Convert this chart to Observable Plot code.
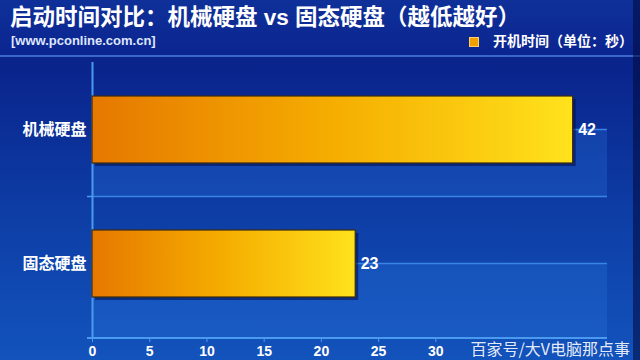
<!DOCTYPE html>
<html><head><meta charset="utf-8">
<script src="https://cdn.jsdelivr.net/npm/d3@7"></script>
<script src="https://cdn.jsdelivr.net/npm/@observablehq/plot@0.6"></script>
<style>
body{margin:0;background:#0a2088;}
#wrap{position:relative;width:640px;height:360px;overflow:hidden;background:linear-gradient(180deg,#081c82 0%,#0a2890 25%,#0d3ea6 60%,#1353bc 100%);font-family:"Liberation Sans","Noto Sans CJK SC",sans-serif;color:#fff;}
#wrap::after{content:"";position:absolute;right:0;top:0;width:7px;height:100%;background:rgba(2,10,60,0.55);}
#head{position:absolute;left:0;top:0;width:640px;height:55px;background:linear-gradient(180deg,#0f3099,#0b2590);border-bottom:2px solid #3b66cc;}
#title{position:absolute;left:10px;top:5px;font-size:22.5px;line-height:26px;font-weight:bold;white-space:nowrap;}
#sub{position:absolute;left:11px;top:33px;font-size:13px;line-height:16px;font-weight:bold;color:#dfe6ff;}
#legend{position:absolute;right:7px;top:33px;font-size:14px;line-height:17px;font-weight:bold;display:flex;align-items:center;white-space:nowrap;}
#legend .sw{width:8px;height:8px;background:#f2a000;border:1px solid #ffd070;margin-right:14px;}
#chart{position:absolute;left:0;top:58px;}
#wm{position:absolute;right:10px;top:339px;font-size:16px;line-height:18px;color:rgba(255,255,255,0.9);font-family:"Noto Sans CJK SC",sans-serif;white-space:nowrap;}
</style></head>
<body>
<div id="wrap">
  <div id="head">
    <div id="title"></div>
    <div id="sub"></div>
    <div id="legend"><span class="sw"></span><span id="legtext"></span></div>
  </div>
  <div id="chart"></div>
  <div id="wm"></div>
</div>
<script>
const titleText = "启动时间对比：机械硬盘 vs 固态硬盘（越低越好）";
const subtitleText = "[www.pconline.com.cn]";
const legendText = "开机时间（单位：秒）";
const watermarkText = "百家号/大V电脑那点事";
const categories = ["机械硬盘", "固态硬盘"];
const values = [42, 23];
const xTicks = [0, 5, 10, 15, 20, 25, 30];
const xDomain = [0, 45];

document.getElementById("title").textContent = titleText;
document.getElementById("sub").textContent = subtitleText;
document.getElementById("legtext").textContent = legendText;
document.getElementById("wm").textContent = watermarkText;

const data = categories.map((name, i) => ({name, value: values[i]}));

function backdrop(index, scales, vals, dims) {
  const x = scales.x, y = scales.y;
  const g = d3.create("svg:g");
  const defs = g.append("defs");
  const grad = defs.append("linearGradient").attr("id", "barGrad")
    .attr("x1", "0").attr("x2", "1").attr("y1", "0").attr("y2", "0");
  grad.append("stop").attr("offset", "0%").attr("stop-color", "#e67800");
  grad.append("stop").attr("offset", "50%").attr("stop-color", "#f5ad00");
  grad.append("stop").attr("offset", "100%").attr("stop-color", "#ffe21c");
  const starts = categories.map(c => y(c));
  const step = starts[1] - starts[0];
  const bw = typeof y.bandwidth === "function" ? y.bandwidth() : step * 0.5;
  const centers = starts.map(s => s + bw / 2);
  const x0 = x(xDomain[0]), x1 = x(xDomain[1]);
  const bottom = dims.height - dims.marginBottom;
  centers.forEach((c, i) => {
    const end = i === centers.length - 1 ? bottom : c + step / 2;
    g.append("rect").attr("x", x0).attr("y", c).attr("width", x1 - x0).attr("height", end - c)
      .attr("fill", "#2a78e0").attr("fill-opacity", 0.28);
  });
  const lines = [];
  centers.forEach((c, i) => { lines.push(c); if (i < centers.length - 1) lines.push(c + step / 2); });
  lines.forEach(ly => {
    g.append("line").attr("x1", x0).attr("x2", x1).attr("y1", ly).attr("y2", ly)
      .attr("stroke", "#3a84e6").attr("stroke-width", 1.5);
  });
  lines.filter((_, i) => i % 2 === 1).forEach(ly => {
    g.append("line").attr("x1", x0 - 5).attr("x2", x0).attr("y1", ly).attr("y2", ly)
      .attr("stroke", "#4a9af0").attr("stroke-width", 1.5);
  });
  return g.node();
}

function axisLine(index, scales, vals, dims) {
  const x = scales.x;
  const bottom = dims.height - dims.marginBottom;
  const g = d3.create("svg:g");
  g.append("line").attr("x1", x(xDomain[0]) - 5).attr("x2", x(xDomain[1])).attr("y1", bottom).attr("y2", bottom)
    .attr("stroke", "#4a9af0").attr("stroke-width", 2);
  return g.node();
}

const chart = Plot.plot({
  width: 640,
  height: 302,
  marginLeft: 92,
  marginRight: 33,
  marginTop: 4,
  marginBottom: 22,
  style: {background: "transparent", color: "#fff", fontFamily: "'Liberation Sans','Noto Sans CJK SC',sans-serif", overflow: "visible"},
  x: {domain: xDomain},
  y: {domain: categories, paddingInner: 0.5, paddingOuter: 0.25, insetBottom: 8},
  marks: [
    backdrop,
    Plot.ruleX([0], {stroke: "#4a9af0", strokeWidth: 2}),
    Plot.barX(data, {x: "value", y: "name", fill: "#020c48", fillOpacity: 0.55, dx: 3, dy: 3}),
    Plot.barX(data, {x: "value", y: "name", fill: "url(#barGrad)", stroke: "#3a2a12", strokeWidth: 1.2}),
    Plot.text(data, {x: "value", y: "name", text: d => String(d.value), dx: 5, textAnchor: "start", fill: "white", fontSize: 16, fontWeight: "bold"}),
    axisLine,
    Plot.axisX({ticks: xTicks, tickSize: 4, tickPadding: 4, stroke: "#4a9af0", fill: "white", fontSize: 14, fontWeight: "bold", label: null}),
    Plot.axisY({tickSize: 0, tickPadding: 6, fill: "white", fontSize: 16, fontWeight: "bold", label: null})
  ]
});
document.getElementById("chart").appendChild(chart);
</script>
</body></html>
